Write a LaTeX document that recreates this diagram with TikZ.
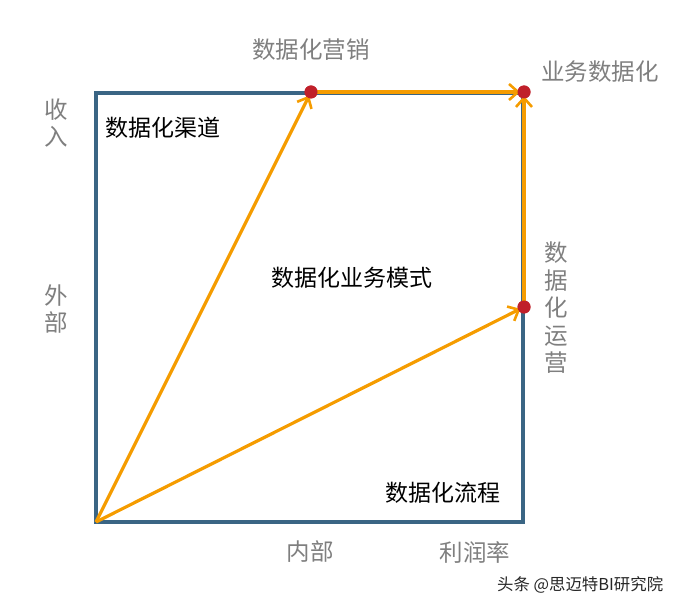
\documentclass[tikz,border=0pt]{standalone}
\usepackage{fontspec}
\newfontfamily\cjk{Noto Sans CJK SC}
\usetikzlibrary{arrows.meta}
\definecolor{boxblue}{HTML}{3A6584}
\definecolor{arrorange}{HTML}{F59C00}
\definecolor{dotred}{HTML}{C0202A}
\definecolor{labgray}{HTML}{7F7F7F}
\tikzset{
  x=1pt,y=-1pt,
  frame/.style={draw=boxblue,line width=3.2pt},
  arr/.style={draw=arrorange,line width=3.2pt,-{Straight Barb[length=9pt,width=16pt,line width=2.6pt]},shorten >=4pt},
  dot/.style={circle,fill=dotred,inner sep=0pt,minimum size=13pt},
  glab/.style={font=\cjk\fontsize{23.5}{27.5}\selectfont,text=labgray,inner sep=0pt,align=center},
  blab/.style={font=\cjk\fontsize{23}{27}\selectfont,text=black,inner sep=0pt},
  wm/.style={font=\cjk\fontsize{16.4}{18}\selectfont,text=black!85,inner sep=0pt}
}
\begin{document}
\begin{tikzpicture}
\useasboundingbox (0,0) rectangle (693,609);
\coordinate (o) at (96,522);
\draw[frame] (96,93) rectangle (523,522);
\node[dot] (m) at (311,92) {};
\node[dot] (b) at (524,92) {};
\node[dot] (r) at (524,307) {};
\draw[arr] (o) -- (m.center);
\draw[arr] (o) -- (r.center);
\draw[arr] (m.center) -- (b.center);
\draw[arr] (r.center) -- (b.center);
\node[dot] at (m) {};
\node[dot] at (b) {};
\node[dot] at (r) {};
\node[glab] (t1) at (311,50) {数据化营销};
\node[glab,anchor=west] (t2) at (541,72) {业务数据化};
\node[glab] (t3) at (56,123) {收\\入};
\node[glab] (t4) at (56,309) {外\\部};
\node[glab] (t5) at (556,308) {数\\据\\化\\运\\营};
\node[glab] (t6) at (310,552) {内部};
\node[glab] (t7) at (475,552) {利润率};
\node[blab,anchor=west] (t8) at (105,128) {数据化渠道};
\node[blab] (t9) at (352,278) {数据化业务模式};
\node[blab] (t10) at (443,493) {数据化流程};
\node[wm,anchor=west] (t11) at (497,585) {头条 @思迈特BI研究院};
\end{tikzpicture}
\end{document}
